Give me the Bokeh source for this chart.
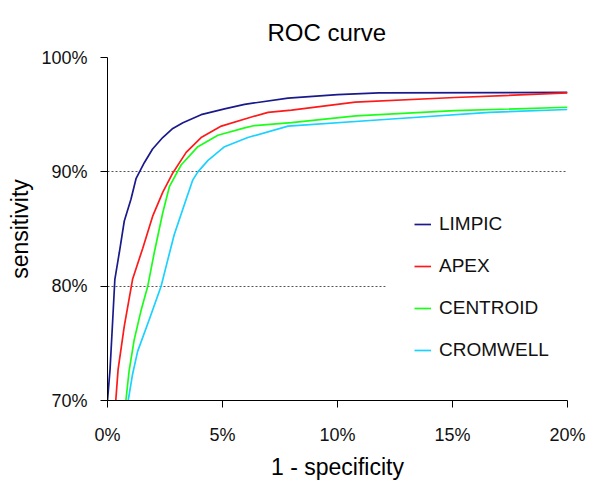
from bokeh.plotting import figure
from bokeh.models import FixedTicker, Range1d, Legend, LegendItem, BoxAnnotation
from bokeh.embed import file_html
from bokeh.resources import INLINE

# Data (x = 1 - specificity in %, y = sensitivity in %)
limpic_x = [0.0, 0.11, 0.22, 0.32, 0.51, 0.73, 1.02, 1.24, 1.6, 1.96, 2.4, 2.84, 3.28, 4.07, 5.09, 5.96, 7.85, 10.0, 11.8, 20.0]
limpic_y = [70.0, 72.7, 76.8, 80.6, 82.9, 85.7, 87.6, 89.4, 90.8, 92.0, 93.0, 93.8, 94.3, 95.0, 95.5, 95.9, 96.45, 96.75, 96.9, 96.95]

apex_x = [0.36, 0.46, 0.73, 1.09, 1.53, 1.96, 2.4, 2.84, 3.42, 4.07, 4.95, 6.26, 6.98, 8.0, 10.77, 15.1, 20.0]
apex_y = [70.0, 72.7, 76.5, 80.6, 83.3, 86.1, 88.2, 89.9, 91.7, 93.0, 94.0, 94.8, 95.2, 95.4, 96.1, 96.5, 96.9]

centroid_x = [0.8, 0.94, 1.16, 1.45, 1.75, 2.03, 2.4, 2.69, 3.2, 3.93, 4.8, 5.96, 6.4, 8.0, 10.8, 15.1, 20.0]
centroid_y = [70.0, 72.6, 75.3, 77.8, 80.0, 82.9, 86.4, 88.7, 90.6, 92.2, 93.2, 93.85, 94.05, 94.3, 94.9, 95.35, 95.65]

cromwell_x = [0.9, 1.09, 1.31, 1.82, 2.33, 2.62, 2.9, 3.42, 3.71, 3.93, 4.37, 5.09, 6.1, 7.85, 12.2, 16.6, 20.0]
cromwell_y = [70.0, 72.3, 74.3, 77.1, 80.0, 82.3, 84.5, 87.6, 89.3, 90.0, 91.0, 92.2, 93.0, 94.0, 94.6, 95.2, 95.45]

x_ticks = [0, 5, 10, 15, 20]
y_ticks = [70, 80, 90, 100]
x_tick_labels = {0: "0%", 5: "5%", 10: "10%", 15: "15%", 20: "20%"}
y_tick_labels = {70: "70%", 80: "80%", 90: "90%", 100: "100%"}

series_names = ["LIMPIC", "APEX", "CENTROID", "CROMWELL"]
series_colors = ["#1a1a8c", "#ff1a1a", "#1aff1a", "#1ad1ff"]

FONT = "Liberation Sans"

p = figure(width=592, height=482, output_backend="svg", toolbar_location=None,
           x_range=Range1d(0, 20), y_range=Range1d(70, 100),
           min_border_left=107, min_border_right=25, min_border_top=57, min_border_bottom=81)
p.outline_line_color = None
p.background_fill_color = "white"

p.title.text = "ROC curve"
p.title.text_font = FONT
p.title.text_font_size = "24px"
p.title.text_font_style = "normal"
p.title.text_color = "black"
p.title.align = "left"
p.title.offset = 160
p.title.standoff = 24

for ax, ticks, labels in ((p.xaxis[0], x_ticks, x_tick_labels), (p.yaxis[0], y_ticks, y_tick_labels)):
    ax.ticker = FixedTicker(ticks=ticks)
    ax.major_label_overrides = labels
    ax.minor_tick_line_color = None
    ax.major_tick_in = 0
    ax.major_tick_out = 7
    ax.axis_line_color = "black"
    ax.major_tick_line_color = "black"
    ax.major_label_text_font = FONT
    ax.major_label_text_font_size = "18px"
    ax.major_label_text_color = "#111111"
    ax.axis_label_text_font = FONT
    ax.axis_label_text_font_size = "23px"
    ax.axis_label_text_font_style = "normal"
    ax.axis_label_text_color = "black"

p.xaxis.axis_label = "1 - specificity"
p.yaxis.axis_label = "sensitivity"
p.xaxis.major_label_standoff = 17
p.yaxis.major_label_standoff = 13
p.xaxis.axis_label_standoff = 6
p.yaxis.axis_label_standoff = 5

p.xgrid.grid_line_color = None
p.ygrid.ticker = FixedTicker(ticks=[80, 90, 100])
p.ygrid.grid_line_color = "#555555"
p.ygrid.grid_line_dash = "2 2"
p.ygrid.grid_line_width = 1

# white legend area hiding the grid behind the legend
p.add_layout(BoxAnnotation(left=12.1, right=20, bottom=72, top=88, fill_color="white",
                           fill_alpha=1.0, line_color=None, level="underlay"))

xs = [limpic_x, apex_x, centroid_x, cromwell_x]
ys = [limpic_y, apex_y, centroid_y, cromwell_y]
items = []
for name, color, x, y in zip(series_names, series_colors, xs, ys):
    r = p.line(x, y, line_color=color, line_width=1.7)
    items.append(LegendItem(label=name, renderers=[r]))

legend = Legend(items=items, location=(307, 39), background_fill_color="white",
                background_fill_alpha=1.0, border_line_color=None,
                padding=30, spacing=20, label_height=20, glyph_height=20, glyph_width=17,
                label_standoff=8, label_text_font=FONT, label_text_font_size="19px",
                label_text_color="#111111")
p.add_layout(legend)

open("out.html", "w").write(file_html(p, INLINE))
